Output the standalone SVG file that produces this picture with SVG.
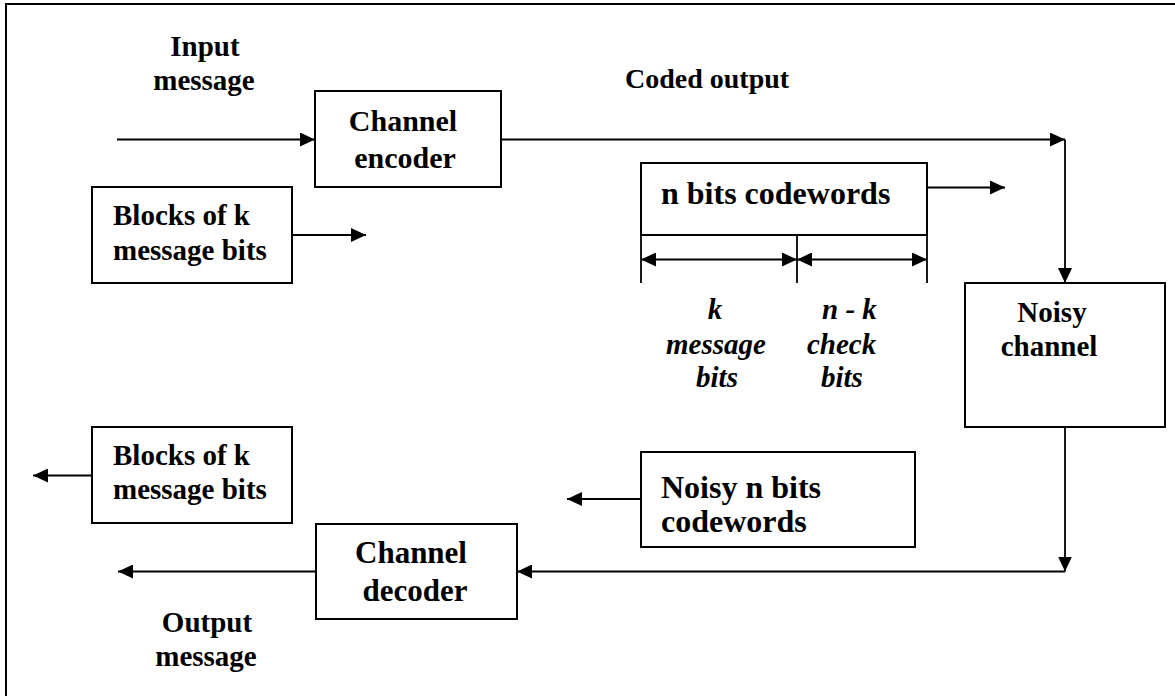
<svg xmlns="http://www.w3.org/2000/svg" width="1175" height="696" viewBox="0 0 1175 696" font-family="'Liberation Serif', 'DejaVu Serif', serif">
  <defs>
    <marker id="arrow" viewBox="0 0 15 14" refX="15" refY="7" markerWidth="15" markerHeight="14" markerUnits="userSpaceOnUse" orient="auto-start-reverse">
      <path d="M0,0 L15,7 L0,14 Z" fill="#000"/>
    </marker>
    <style>
      .box { fill: #fff; stroke: #000; stroke-width: 2; }
      .line { fill: none; stroke: #000; stroke-width: 1.8; }
      .arr { fill: none; stroke: #000; stroke-width: 1.8; marker-end: url(#arrow); }
      .dbl { fill: none; stroke: #000; stroke-width: 1.8; marker-start: url(#arrow); marker-end: url(#arrow); }
      .frame { fill: none; stroke: #000; stroke-width: 2; }
      text { font-family: 'Liberation Serif', 'DejaVu Serif', serif; font-weight: bold; fill: #000; }
      .lbl { font-size: 29px; }
      .big { font-size: 32px; }
      .it { font-size: 29px; font-style: italic; }
      .mid { text-anchor: middle; }
    </style>
  </defs>
  <rect width="1175" height="696" fill="#fff"/>

  <!-- outer frame (top and left edges) -->
  <path class="frame" d="M6,696 V4 H1175"/>

  <!-- free labels -->
  <g id="label-input">
    <text class="lbl mid" x="205" y="56">Input</text>
    <text class="lbl mid" x="204" y="90">message</text>
  </g>
  <g id="label-coded">
    <text class="lbl" x="625" y="88" style="font-size:28px">Coded output</text>
  </g>
  <g id="label-output">
    <text class="lbl mid" x="207" y="632">Output</text>
    <text class="lbl mid" x="206" y="666">message</text>
  </g>
  <g id="label-k">
    <text class="it mid" x="715" y="319">k</text>
    <text class="it mid" x="716" y="354">message</text>
    <text class="it mid" x="717" y="387">bits</text>
  </g>
  <g id="label-nk">
    <text class="it" x="822" y="319">n - k</text>
    <text class="it" x="807" y="354">check</text>
    <text class="it" x="821" y="387">bits</text>
  </g>

  <!-- nodes -->
  <g id="channel-encoder">
    <rect class="box" x="315" y="91" width="186" height="96"/>
    <text class="lbl mid" x="403" y="131" style="font-size:30px">Channel</text>
    <text class="lbl mid" x="405" y="168" style="font-size:30px">encoder</text>
  </g>
  <g id="blocks-in">
    <rect class="box" x="92" y="187" width="200" height="96"/>
    <text class="lbl" x="113" y="225">Blocks of k</text>
    <text class="lbl" x="113" y="260">message bits</text>
  </g>
  <g id="codeword">
    <rect class="box" x="641" y="163" width="286" height="72"/>
    <text class="big" x="661" y="204">n bits codewords</text>
  </g>
  <g id="noisy-channel">
    <rect class="box" x="965" y="283" width="200" height="144"/>
    <text class="lbl mid" x="1052" y="322">Noisy</text>
    <text class="lbl mid" x="1049" y="356">channel</text>
  </g>
  <g id="blocks-out">
    <rect class="box" x="92" y="427" width="200" height="96"/>
    <text class="lbl" x="113" y="465">Blocks of k</text>
    <text class="lbl" x="113" y="499">message bits</text>
  </g>
  <g id="noisy-codeword">
    <rect class="box" x="641" y="452" width="274" height="95"/>
    <text class="big" x="661" y="498">Noisy n bits</text>
    <text class="big" x="661" y="532">codewords</text>
  </g>
  <g id="channel-decoder">
    <rect class="box" x="316" y="524" width="201" height="95"/>
    <text class="lbl mid" x="411" y="563" style="font-size:31px">Channel</text>
    <text class="lbl mid" x="415" y="601" style="font-size:31px">decoder</text>
  </g>

  <!-- connectors -->
  <g id="connectors">
    <line class="arr" x1="117" y1="139.5" x2="315" y2="139.5"/>
    <line class="arr" x1="292" y1="235" x2="366" y2="235"/>
    <line class="arr" x1="501" y1="139.5" x2="1065" y2="139.5"/>
    <line class="arr" x1="1065" y1="139.5" x2="1065" y2="283"/>
    <line class="arr" x1="927" y1="187.5" x2="1005" y2="187.5"/>
    <!-- codeword split markers -->
    <line class="line" x1="641" y1="235" x2="641" y2="283"/>
    <line class="line" x1="797" y1="235" x2="797" y2="283"/>
    <line class="line" x1="927" y1="235" x2="927" y2="283"/>
    <line class="dbl" x1="641" y1="259.5" x2="797" y2="259.5"/>
    <line class="dbl" x1="797" y1="259.5" x2="927" y2="259.5"/>
    <line class="arr" x1="1065" y1="427" x2="1065" y2="571.5"/>
    <line class="arr" x1="1065" y1="571.5" x2="517" y2="571.5"/>
    <line class="arr" x1="316" y1="571.5" x2="118" y2="571.5"/>
    <line class="arr" x1="641" y1="499" x2="567" y2="499"/>
    <line class="arr" x1="92" y1="475.5" x2="33" y2="475.5"/>
  </g>
</svg>
